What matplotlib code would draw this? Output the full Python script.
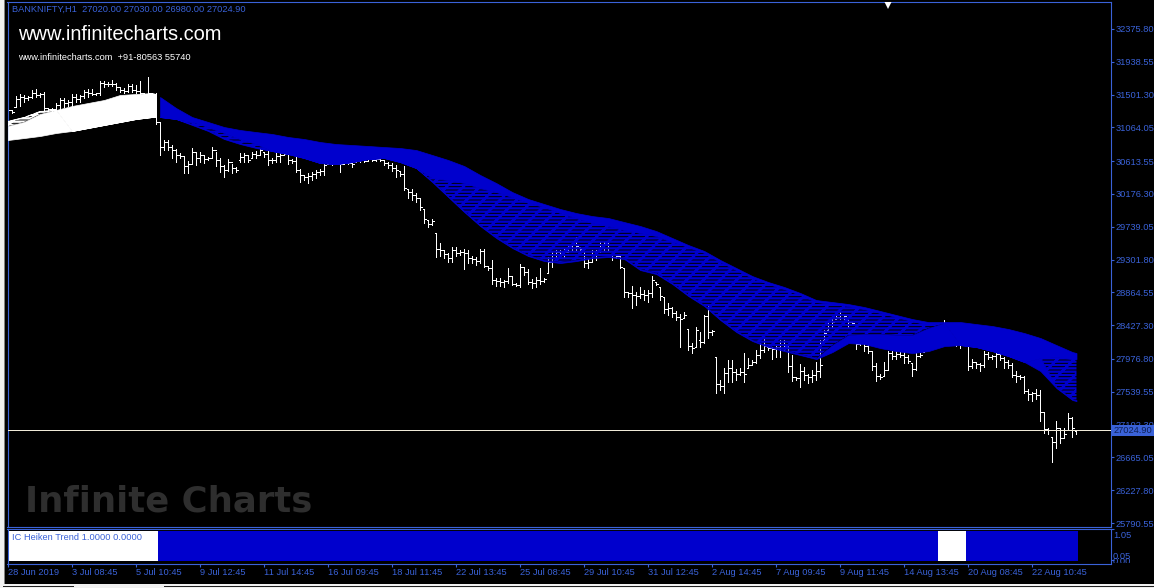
import numpy as np
import matplotlib
matplotlib.use("Agg")
from matplotlib import pyplot as plt
from matplotlib.patches import Rectangle
from matplotlib.transforms import Bbox

W, H = 1154, 588
BLUE_TXT = "#3a62d8"
RIBBON = "#0000cd"

# hourly bars
highs = [
    31376, 31296, 31482, 31509, 31495, 31482, 31562, 31575, 31522, 31535,
    31322, 31322, 31389, 31456, 31456, 31429, 31509, 31509, 31495, 31562,
    31575, 31575, 31522, 31682, 31682, 31669, 31696, 31656, 31602, 31589,
    31642, 31642, 31629, 31682, 31522, 31736, 31522, 31522, 31122, 30896,
    30896, 30829, 30776, 30722, 30682, 30616, 30789, 30736, 30736, 30682,
    30669, 30802, 30736, 30656, 30562, 30642, 30576, 30536, 30722, 30722,
    30696, 30736, 30749, 30789, 30736, 30762, 30656, 30722, 30722, 30722,
    30722, 30642, 30682, 30509, 30429, 30456, 30469, 30496, 30509, 30589,
    30602, 30602, 30602, 30602, 30602, 30602, 30602, 30629, 30642, 30642,
    30656, 30656, 30656, 30642, 30629, 30602, 30589, 30562, 30482, 30549,
    30243, 30243, 30189, 30122, 29976, 29829, 29842, 29656, 29522, 29429,
    29389, 29469, 29469, 29429, 29442, 29429, 29349, 29336, 29442, 29442,
    29216, 29296, 29056, 29056, 29029, 29189, 29082, 28989, 29242, 29202,
    29176, 29042, 29069, 29189, 29056, 29336, 29402, 29429, 29429, 29456,
    29496, 29509, 29602, 29469, 29429, 29309, 29429, 29429, 29536, 29536,
    29536, 29362, 29362, 29362, 29189, 28869, 28949, 28869, 28936, 28896,
    28896, 29082, 29002, 28936, 28802, 28722, 28669, 28616, 28576, 28602,
    28376, 28189, 28402, 28336, 28562, 28682, 28362, 28002, 27696, 27856,
    27962, 27962, 27842, 27856, 28056, 27989, 27962, 28096, 28189, 28242,
    28136, 28136, 28162, 28229, 28229, 28176, 28029, 27736, 27909, 27869,
    27776, 27829, 27936, 28229, 28362, 28496, 28522, 28576, 28629, 28576,
    28522, 28469, 28202, 28202, 28189, 28189, 28082, 27922, 27776, 27936,
    28082, 28082, 28082, 28082, 28069, 28029, 27922, 28056, 28056, 28162,
    28176, 28202, 28229, 28256, 28496, 28296, 28256, 28229, 28189, 28189,
    28189, 27976, 27936, 27922, 28082, 28069, 28029, 28082, 28082, 28002,
    27962, 27922, 27816, 27762, 27749, 27576, 27536, 27576, 27562, 27269,
    27056, 26936, 27149, 27056, 27056, 27256, 27202, 27030,
]
lows = [
    31242, 31256, 31336, 31349, 31402, 31429, 31456, 31469, 31469, 31296,
    31282, 31282, 31296, 31296, 31336, 31349, 31336, 31402, 31402, 31456,
    31469, 31495, 31495, 31495, 31602, 31616, 31616, 31562, 31536, 31522,
    31536, 31536, 31522, 31509, 31495, 31509, 31495, 31109, 30696, 30762,
    30762, 30656, 30602, 30656, 30456, 30456, 30589, 30562, 30602, 30589,
    30629, 30656, 30549, 30469, 30402, 30482, 30456, 30469, 30602, 30602,
    30602, 30656, 30656, 30696, 30669, 30562, 30589, 30602, 30602, 30696,
    30576, 30589, 30469, 30336, 30362, 30322, 30362, 30389, 30429, 30429,
    30576, 30562, 30576, 30469, 30576, 30576, 30536, 30602, 30602, 30602,
    30616, 30616, 30616, 30616, 30562, 30522, 30482, 30402, 30416, 30229,
    30122, 30096, 30069, 29962, 29789, 29736, 29762, 29336, 29349, 29322,
    29269, 29269, 29349, 29362, 29176, 29256, 29256, 29229, 29256, 29202,
    29162, 28976, 28949, 28949, 28936, 28989, 28962, 28949, 28936, 29096,
    28976, 28922, 28936, 28976, 29002, 29122, 29202, 29336, 29389, 29336,
    29402, 29429, 29429, 29402, 29202, 29189, 29269, 29296, 29402, 29429,
    29429, 29296, 29322, 29189, 28802, 28802, 28656, 28696, 28789, 28762,
    28736, 28802, 28962, 28762, 28589, 28562, 28536, 28496, 28136, 28522,
    28096, 28056, 28136, 28136, 28189, 28256, 28296, 27522, 27562, 27522,
    27669, 27669, 27696, 27762, 27669, 27856, 27896, 27922, 27989, 28069,
    28096, 27976, 28002, 28002, 28096, 27802, 27682, 27696, 27602, 27696,
    27656, 27669, 27696, 27736, 28202, 28362, 28389, 28509, 28509, 28509,
    28402, 28442, 28109, 28162, 28082, 28056, 27829, 27682, 27709, 27749,
    27829, 27976, 27976, 28002, 27922, 27922, 27749, 27829, 28002, 28069,
    28096, 28109, 28136, 28149, 28229, 28189, 28162, 28149, 28122, 28162,
    27829, 27856, 27856, 27816, 27869, 27976, 27976, 27869, 27962, 27856,
    27856, 27736, 27669, 27709, 27522, 27429, 27416, 27442, 27149, 26989,
    26976, 26602, 26789, 26856, 26922, 27029, 26936, 26980,
]
opens = [
    31269, 31296, 31336, 31442, 31469, 31456, 31469, 31522, 31495, 31509,
    31322, 31309, 31309, 31362, 31429, 31389, 31402, 31469, 31442, 31482,
    31536, 31522, 31509, 31522, 31656, 31642, 31642, 31642, 31602, 31562,
    31549, 31616, 31562, 31549, 31522, 31509, 31522, 31509, 31136, 30802,
    30869, 30802, 30762, 30696, 30682, 30549, 30576, 30736, 30656, 30696,
    30642, 30656, 30762, 30629, 30549, 30496, 30602, 30522, 30629, 30669,
    30696, 30656, 30709, 30696, 30736, 30709, 30629, 30629, 30682, 30696,
    30709, 30629, 30616, 30496, 30429, 30402, 30416, 30442, 30469, 30482,
    30576, 30589, 30576, 30589, 30576, 30589, 30589, 30602, 30616, 30629,
    30616, 30642, 30629, 30642, 30629, 30589, 30562, 30522, 30482, 30442,
    30243, 30202, 30162, 30122, 29976, 29829, 29776, 29656, 29442, 29429,
    29376, 29322, 29429, 29389, 29402, 29389, 29322, 29309, 29282, 29416,
    29216, 29189, 29029, 29016, 29002, 29016, 29082, 28976, 28962, 29202,
    29136, 29002, 28989, 29029, 29016, 29122, 29269, 29362, 29402, 29416,
    29402, 29482, 29456, 29469, 29429, 29256, 29269, 29376, 29416, 29509,
    29522, 29362, 29336, 29349, 29189, 28869, 28856, 28829, 28816, 28842,
    28829, 28856, 29002, 28936, 28802, 28642, 28656, 28589, 28536, 28522,
    28376, 28149, 28136, 28229, 28202, 28549, 28336, 28002, 27642, 27616,
    27789, 27856, 27802, 27776, 27802, 27856, 27896, 27936, 28029, 28096,
    28136, 28122, 28109, 28136, 28162, 28176, 27882, 27736, 27722, 27816,
    27762, 27736, 27762, 27816, 28229, 28362, 28442, 28509, 28536, 28576,
    28522, 28469, 28202, 28176, 28189, 28149, 28082, 27882, 27749, 27749,
    27829, 28056, 28016, 28042, 28029, 28002, 27922, 27842, 28016, 28069,
    28122, 28149, 28176, 28189, 28229, 28296, 28229, 28202, 28176, 28162,
    28176, 27882, 27936, 27909, 27896, 28042, 28002, 28016, 28042, 27989,
    27936, 27896, 27762, 27749, 27736, 27549, 27509, 27522, 27496, 27269,
    27042, 26936, 26869, 27056, 26922, 27029, 27189, 27020,
]
closes = [
    31296, 31269, 31442, 31469, 31456, 31469, 31522, 31495, 31509, 31322,
    31309, 31309, 31362, 31429, 31389, 31402, 31469, 31442, 31482, 31536,
    31522, 31509, 31522, 31656, 31642, 31642, 31642, 31602, 31562, 31549,
    31616, 31562, 31549, 31522, 31509, 31522, 31509, 31136, 30802, 30869,
    30802, 30762, 30696, 30682, 30549, 30576, 30736, 30656, 30696, 30642,
    30656, 30762, 30629, 30549, 30496, 30602, 30522, 30496, 30669, 30696,
    30629, 30709, 30696, 30762, 30709, 30629, 30629, 30682, 30696, 30709,
    30629, 30616, 30496, 30429, 30402, 30416, 30442, 30469, 30482, 30562,
    30589, 30576, 30589, 30576, 30589, 30589, 30576, 30616, 30629, 30616,
    30642, 30629, 30642, 30629, 30589, 30562, 30522, 30496, 30442, 30256,
    30202, 30162, 30122, 30002, 29842, 29776, 29816, 29442, 29429, 29376,
    29322, 29429, 29389, 29402, 29389, 29322, 29309, 29282, 29416, 29216,
    29189, 29029, 29016, 29002, 29016, 29082, 28976, 28962, 29202, 29136,
    29002, 28989, 29029, 29016, 29042, 29269, 29362, 29402, 29416, 29402,
    29482, 29456, 29482, 29442, 29256, 29269, 29376, 29416, 29509, 29522,
    29496, 29336, 29349, 29202, 28869, 28856, 28829, 28816, 28842, 28829,
    28856, 29029, 28976, 28816, 28642, 28656, 28589, 28536, 28509, 28562,
    28149, 28122, 28362, 28202, 28549, 28336, 28349, 27642, 27616, 27789,
    27856, 27802, 27776, 27802, 27776, 27896, 27936, 28029, 28096, 28149,
    28122, 28109, 28136, 28162, 28176, 27882, 27736, 27722, 27816, 27762,
    27736, 27762, 27816, 27896, 28322, 28442, 28469, 28536, 28576, 28549,
    28469, 28456, 28176, 28189, 28149, 28082, 27882, 27749, 27736, 27829,
    28056, 28016, 28042, 28029, 28002, 27949, 27842, 28016, 28029, 28122,
    28149, 28176, 28189, 28216, 28296, 28229, 28202, 28176, 28162, 28176,
    27882, 27936, 27909, 27896, 28042, 28002, 28016, 28042, 27989, 27936,
    27896, 27762, 27749, 27736, 27549, 27509, 27522, 27496, 27269, 27042,
    27029, 26869, 27056, 26922, 26976, 27189, 27056, 27024.9,
]

# white ribbon, sampled on these bars
white_bars = [0, 4, 8, 12, 16, 20, 24, 28, 32, 36, 37]
white_top = [31149, 31202, 31282, 31296, 31349, 31389, 31429, 31496, 31509, 31522, 31509]
white_low = [30896, 30922, 30949, 30989, 31016, 31056, 31096, 31136, 31176, 31202, 31202]
white_tex_top = [31149, 31202, 31282, 31296, None, None, None, None, None, None, None]
white_tex_low = [31082, 31136, 31242, 31296, None, None, None, None, None, None, None]

# blue ribbon, sampled every 4 bars
blue_bars = list(range(38, 267, 4)) + [267]
blue_top = [
    31469, 31322, 31202, 31136, 31069, 31029, 31002, 30976, 30936, 30909,
    30869, 30842, 30829, 30816, 30802, 30789, 30762, 30696, 30629, 30549,
    30429, 30322, 30202, 30109, 30042, 29976, 29922, 29882, 29856, 29802,
    29749, 29682, 29589, 29496, 29416, 29296, 29189, 29082, 29002, 28936,
    28856, 28762, 28736, 28709, 28669, 28616, 28562, 28509, 28469, 28469,
    28469, 28442, 28416, 28376, 28322, 28256, 28162, 28069, 28056,
]
blue_low = [
    31202, 31176, 31109, 31029, 30922, 30856, 30802, 30749, 30709, 30656,
    30589, 30576, 30602, 30642, 30656, 30602, 30522, 30336, 30136, 29936,
    29749, 29589, 29456, 29349, 29282, 29256, 29282, 29322, 29336, 29309,
    29162, 29109, 28976, 28816, 28682, 28496, 28336, 28216, 28136, 28082,
    28029, 27976, 28069, 28189, 28176, 28122, 28082, 28056, 28082, 28149,
    28162, 28136, 28082, 28016, 27936, 27816, 27589, 27429, 27416,
]
# band of the blue ribbon where the lines spread apart and gaps show
blue_tex_top = [
    None, 31176, 31136, 31069, 30989, 30909, 30842, 30749,
    None, None, None, None, None, None, None, None,
    30522, 30389, 30362, 30322, 30256, 30202, 30136, 30056, 30002, 29922,
    29856, 29789, 29749, 29696, 29656, 29616, 29536, 29469, 29389, 29269,
    29162, 29056, 28976, 28909, 28829, 28736, 28709, 28682, 28642, 28589,
    28536, 28482, 28429, 28456,
    None, None, None, None, None,
    27989, 28002, 27976, 27976,
]
blue_tex_low = [
    None, 31176, 31096, 31016, 30909, 30842, 30789, 30749,
    None, None, None, None, None, None, None, None,
    30522, 30349, 30149, 29949, 29762, 29602, 29469, 29362, 29296, 29269,
    29296, 29336, 29349, 29322, 29176, 29122, 28989, 28829, 28696, 28509,
    28349, 28229, 28149, 28096, 28042, 27989, 28162, 28296, 28309, 28309,
    28296, 28296, 28389, 28456,
    None, None, None, None, None,
    27989, 27602, 27442, 27429,
]

# indicator panel: first bar, last bar, colour
trend_runs = [(0, 37, "white"), (38, 232, RIBBON), (233, 239, "white"), (240, 267, RIBBON)]

price_ticks = [32375.80, 31938.55, 31501.30, 31064.05, 30613.55, 30176.30, 29739.05, 29301.80,
               28864.55, 28427.30, 27976.80, 27539.55, 27102.30, 26665.05, 26227.80, 25790.55]
date_ticks = list(range(0, 268, 16))
date_labels = ["28 Jun 2019", "3 Jul 08:45", "5 Jul 10:45", "9 Jul 12:45", "11 Jul 14:45",
               "16 Jul 09:45", "18 Jul 11:45", "22 Jul 13:45", "25 Jul 08:45", "29 Jul 10:45",
               "31 Jul 12:45", "2 Aug 14:45", "7 Aug 09:45", "9 Aug 11:45", "14 Aug 13:45",
               "20 Aug 08:45", "22 Aug 10:45"]
last_price = 27024.90
FS = 6.7

plt.rcParams["font.family"] = ["Liberation Sans", "DejaVu Sans"]
plt.rcParams["hatch.linewidth"] = 1.7


def to_axes(left, top, right, bottom):
    return [left / W, 1 - bottom / H, (right - left) / W, (bottom - top) / H]


def style_axes(ax):
    ax.set_facecolor("black")
    for s in ax.spines.values():
        s.set_color(BLUE_TXT)
        s.set_linewidth(0.8)
    ax.tick_params(colors=BLUE_TXT, labelcolor=BLUE_TXT, length=2.5, width=0.8, labelsize=FS, pad=1)


def draw_ribbon(ax, bars, top, low, tex_top, tex_low, color):
    top = np.array(top, dtype=float)
    low = np.array(low, dtype=float)
    tex_top = np.array(tex_top, dtype=float)
    tex_low = np.array(tex_low, dtype=float)
    # solid parts above and below the band with gaps
    ax.fill_between(bars, top, np.where(np.isnan(tex_top), low, tex_top), color=color, lw=0.5, antialiased=False, zorder=3)
    ax.fill_between(bars, np.where(np.isnan(tex_low), low, tex_low), low, color=color, lw=0.5, antialiased=False, zorder=3)
    ax.fill_between(bars, tex_top, tex_low, facecolor="none", edgecolor=color, hatch="-----//", lw=0, zorder=3)


def frame_rect(x0, y0, x1, y1, color):
    fig.add_artist(Rectangle((x0 / W, 1 - y1 / H), (x1 - x0) / W, (y1 - y0) / H,
                             transform=fig.transFigure, fc=color, ec="none"))


fig = plt.figure(figsize=(W / 100, H / 100), dpi=100, facecolor="black")

ax = fig.add_axes(to_axes(7.5, 1.5, 1110.5, 526.5))
sub = fig.add_axes(to_axes(7.5, 528.5, 1110.5, 563.5))
style_axes(ax)
style_axes(sub)

bars = np.arange(len(closes))
ax.vlines(bars, lows, highs, color="white", lw=0.6, antialiased=False, zorder=2)
ax.hlines(opens, bars - 0.4, bars, color="white", lw=0.6, antialiased=False, zorder=2)
ax.hlines(closes, bars, bars + 0.4, color="white", lw=0.6, antialiased=False, zorder=2)

draw_ribbon(ax, white_bars, white_top, white_low, white_tex_top, white_tex_low, "white")
draw_ribbon(ax, blue_bars, blue_top, blue_low, blue_tex_top, blue_tex_low, RIBBON)

ax.axhline(last_price, color="#f0ead8", lw=0.6, antialiased=False, zorder=4)
ax.plot([220], [32709], marker="v", ms=7, color="white", mew=0, zorder=5)

ax.set_xlim(-0.125, 275.5)
ax.set_ylim(25744, 32742)
ax.set_xticks([])
ax.yaxis.tick_right()
ax.set_yticks(price_ticks)
ax.set_yticklabels([f"{p:.2f}" for p in price_ticks])

for first, last, c in trend_runs:
    run = np.arange(first, last + 1)
    sub.bar(run, np.ones(len(run)), width=1.0, color=c, lw=0, antialiased=False)
sub.set_xlim(-0.125, 275.5)
sub.set_ylim(-0.08, 1.08)
sub.yaxis.tick_right()
sub.set_yticks([1.05, 0.05])
sub.set_yticklabels([])
sub.set_xticks(date_ticks)
sub.set_xticklabels(date_labels, ha="left")

# window frame around the chart
frame_rect(0, 0, 4, H, "#f0f0f0")
frame_rect(4, 0, 5, H, "#808080")
frame_rect(0, 584, W, H, "#f0f0f0")
frame_rect(3, 586, 74, 587, "#202020")
frame_rect(164, 586, W, 587, "#202020")

# last price box
frame_rect(1111, 425, W, 436, BLUE_TXT)

# header and watermark texts
fig.text(12 / W, 1 - 9 / H, "BANKNIFTY,H1  27020.00 27030.00 26980.00 27024.90", color=BLUE_TXT, fontsize=FS, va="center")
fig.text(18 / W, 1 - 34 / H, "www.infinitecharts.com", color="white", fontsize=14.4, va="center")
fig.text(18 / W, 1 - 58 / H, "www.infinitecharts.com  +91-80563 55740", color="white", fontsize=6.7, va="center")
fig.text(25 / W, 1 - 501 / H, "Infinite Charts", color="#2e2e2e", fontsize=25.5, fontweight="bold", va="center", family="DejaVu Sans")
fig.text(12 / W, 1 - 538 / H, "IC Heiken Trend 1.0000 0.0000", color=BLUE_TXT, fontsize=FS, va="center")
fig.text(1114 / W, 1 - 430.5 / H, f"{last_price:.2f}", color="#0d1f55", fontsize=FS, va="center")
fig.text(1113 / W, 1 - 536 / H, "1.05", color=BLUE_TXT, fontsize=FS, va="center")
fig.text(1113 / W, 1 - 556.5 / H, "0.05", color=BLUE_TXT, fontsize=FS, va="center")
fig.text(1113 / W, 1 - 561 / H, "0.00", color=BLUE_TXT, fontsize=FS, va="center", clip_on=True,
         clip_box=Bbox([[1110, H - 563], [1154, H - 557]]))

fig.savefig("out.png", dpi=100, facecolor="black")
plt.close("all")
